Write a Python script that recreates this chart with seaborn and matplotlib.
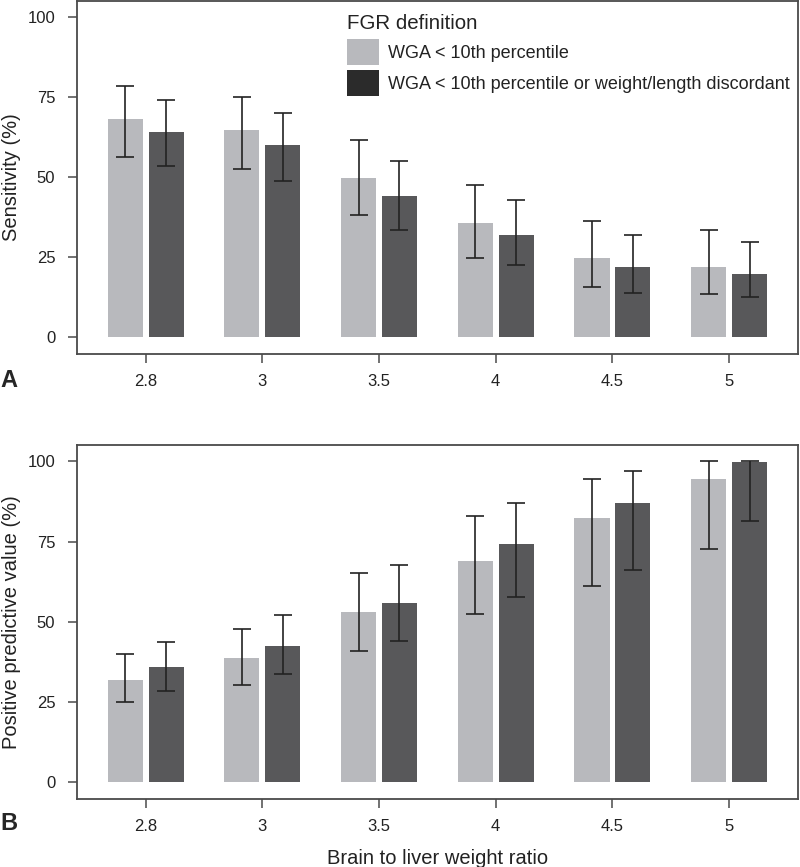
import numpy as np
import pandas as pd
import matplotlib
matplotlib.use('Agg')
import matplotlib.pyplot as plt
import seaborn as sns
from matplotlib.patches import Patch

# Data
ratios = ['2.8', '3', '3.5', '4', '4.5', '5']
definitions = ['WGA < 10th percentile',
               'WGA < 10th percentile or weight/length discordant']

sens_wga = [68.4, 64.8, 49.7, 35.6, 24.8, 22.0]
sens_wga_lo = [56.5, 52.6, 38.2, 24.8, 15.6, 13.5]
sens_wga_hi = [78.6, 75.0, 61.6, 47.6, 36.3, 33.5]
sens_disc = [64.2, 60.0, 44.2, 32.0, 22.0, 19.7]
sens_disc_lo = [53.6, 48.8, 33.7, 22.6, 13.9, 12.5]
sens_disc_hi = [74.2, 70.1, 55.2, 42.8, 32.0, 29.7]

ppv_wga = [32.0, 38.6, 53.2, 68.9, 82.3, 94.5]
ppv_wga_lo = [24.9, 30.3, 41.0, 52.6, 61.2, 72.6]
ppv_wga_hi = [40.1, 47.7, 65.2, 83.1, 94.5, 100.0]
ppv_disc = [35.8, 42.4, 55.9, 74.3, 86.9, 99.7]
ppv_disc_lo = [28.6, 33.8, 43.9, 57.8, 66.1, 81.4]
ppv_disc_hi = [43.7, 52.0, 67.8, 86.9, 97.1, 100.0]

light = '#b8b9bd'
dark = '#58585a'
key_dark = '#2b2b2b'
spine_col = '#4a4a4a'
text_col = '#222222'

sns.set_style('white')
plt.rcParams['font.family'] = ['Liberation Sans', 'DejaVu Sans']


def make_df(v1, lo1, hi1, v2, lo2, hi2):
    return pd.DataFrame({
        'ratio': ratios * 2,
        'definition': [definitions[0]] * len(ratios) + [definitions[1]] * len(ratios),
        'value': v1 + v2,
        'lo': lo1 + lo2,
        'hi': hi1 + hi2,
    })


sens_df = make_df(sens_wga, sens_wga_lo, sens_wga_hi, sens_disc, sens_disc_lo, sens_disc_hi)
ppv_df = make_df(ppv_wga, ppv_wga_lo, ppv_wga_hi, ppv_disc, ppv_disc_lo, ppv_disc_hi)

fig = plt.figure(figsize=(8, 8.67), dpi=100)
ax_a = fig.add_axes([0.096, 0.5917, 0.9015, 0.4073])
ax_b = fig.add_axes([0.096, 0.0784, 0.9015, 0.4086])


def draw_panel(ax, df, ylabel):
    sns.barplot(data=df, x='ratio', y='value', hue='definition', order=ratios,
                hue_order=definitions, palette=[light, dark], width=0.7, gap=0.14,
                errorbar=None, legend=False, ax=ax, saturation=1, linewidth=0)
    for cont, d in zip(ax.containers, definitions):
        sub = df[df['definition'] == d].set_index('ratio').loc[ratios]
        xs = [b.get_x() + b.get_width() / 2 for b in cont]
        ax.errorbar(xs, sub['value'],
                    yerr=[sub['value'] - sub['lo'], sub['hi'] - sub['value']],
                    fmt='none', ecolor=text_col, elinewidth=1.2, capsize=6.5,
                    capthick=1.2)
    ax.set_xlim(-0.59, 5.59)
    ax.set_ylim(-5.2, 105.2)
    ax.set_yticks([0, 25, 50, 75, 100])
    ax.set_xlabel('')
    ax.set_ylabel(ylabel, fontsize=14.5, color=text_col)
    ax.yaxis.set_label_coords(-0.078, 0.5)
    ax.tick_params(axis='both', which='both', direction='out', length=6.5,
                   width=1.1, color=spine_col, labelsize=12, labelcolor=text_col,
                   pad=8, bottom=True, left=True)
    ax.tick_params(axis='y', pad=9)
    for s in ax.spines.values():
        s.set_color(spine_col)
        s.set_linewidth(1.3)
        s.set_visible(True)


draw_panel(ax_a, sens_df, 'Sensitivity (%)')
draw_panel(ax_b, ppv_df, 'Positive predictive value (%)')
ax_b.set_xlabel('Brain to liver weight ratio', fontsize=14.5, color=text_col, labelpad=11)

handles = [Patch(facecolor=light, edgecolor='none'),
           Patch(facecolor=key_dark, edgecolor='none')]
leg = ax_a.legend(handles, definitions, title='FGR definition', loc='upper left',
                  bbox_to_anchor=(0.374, 0.962), frameon=False, fontsize=13,
                  title_fontsize=14.8, handlelength=1.8, handleheight=1.85,
                  handletextpad=0.5, labelspacing=0.3, borderaxespad=0,
                  borderpad=0)
leg._legend_box.align = 'left'
for t in leg.get_texts():
    t.set_color(text_col)
leg.get_title().set_color(text_col)

fig.text(0.0, 0.5536, 'A', fontsize=17, fontweight='bold', va='baseline', ha='left')
fig.text(0.0, 0.0427, 'B', fontsize=17, fontweight='bold', va='baseline', ha='left')

fig.savefig('out.png', dpi=100)
